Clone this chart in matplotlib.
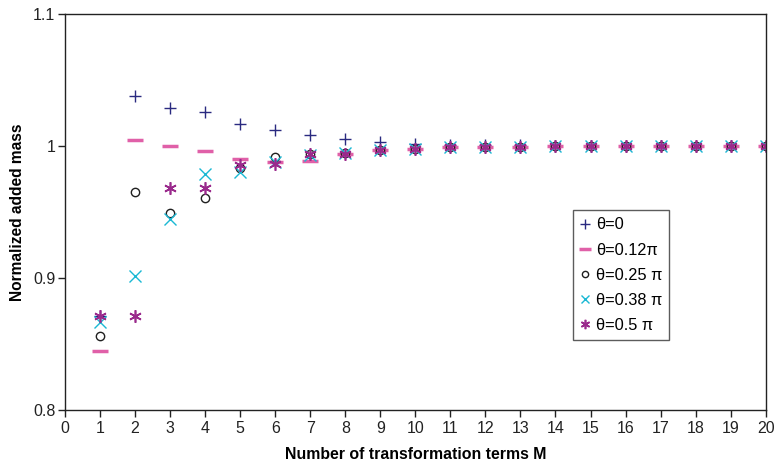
import matplotlib
matplotlib.use("Agg")
import matplotlib.pyplot as plt

plt.rcParams['font.family'] = ['Liberation Sans', 'DejaVu Sans']

M = list(range(1, 21))
theta_0 = [0.871, 1.038, 1.029, 1.026, 1.017, 1.012, 1.008, 1.005, 1.003, 1.0015,
           1.001, 1.0007, 1.0004, 1.0002, 1.0001, 1.0, 1.0, 1.0, 1.0, 1.0]
theta_012 = [0.845, 1.0045, 1.000, 0.9965, 0.990, 0.988, 0.989, 0.994, 0.997, 0.998,
             0.999, 0.9993, 0.9996, 0.9998, 0.9999, 1.0, 1.0, 1.0, 1.0, 1.0]
theta_025 = [0.856, 0.965, 0.949, 0.961, 0.983, 0.992, 0.994, 0.995, 0.997, 0.998,
             0.999, 0.9993, 0.9996, 0.9998, 0.9999, 1.0, 1.0, 1.0, 1.0, 1.0]
theta_038 = [0.867, 0.9015, 0.945, 0.979, 0.980, 0.988, 0.993, 0.995, 0.997, 0.998,
             0.999, 0.9993, 0.9996, 0.9998, 0.9999, 1.0, 1.0, 1.0, 1.0, 1.0]
theta_05 = [0.871, 0.871, 0.968, 0.968, 0.9855, 0.986, 0.994, 0.994, 0.997, 0.998,
            0.999, 0.9993, 0.9996, 0.9998, 0.9999, 1.0, 1.0, 1.0, 1.0, 1.0]
labels = ['θ=0', 'θ=0.12π', 'θ=0.25 π', 'θ=0.38 π', 'θ=0.5 π']

fig = plt.figure(figsize=(7.75, 4.65), dpi=100)
ax = fig.add_axes([0.0839, 0.118, 0.988 - 0.0839, 0.970 - 0.118])

ax.plot(M, theta_0, linestyle='none', marker='+', color='#2a2a80', markersize=9, markeredgewidth=1.0, label=labels[0])
ax.plot(M, theta_012, linestyle='none', marker='_', color='#e060a8', markersize=11, markeredgewidth=2.5, label=labels[1])
ax.plot(M, theta_025, linestyle='none', marker='o', markerfacecolor='none', markeredgecolor='#202020', markersize=6, markeredgewidth=1.0, label=labels[2])
ax.plot(M, theta_038, linestyle='none', marker='x', color='#1ab8d4', markersize=8, markeredgewidth=1.0, label=labels[3])
ax.plot(M, theta_05, linestyle='none', marker=(6, 2, 0), color='#9a2a8c', markersize=9, markeredgewidth=1.2, label=labels[4])

ax.set_xlim(0, 20)
ax.set_ylim(0.8, 1.1)
ax.set_xticks(range(0, 21))
ax.set_yticks([0.8, 0.9, 1.0, 1.1])
ax.set_yticklabels(['0.8', '0.9', '1', '1.1'])
ax.tick_params(axis='both', direction='out', length=5, width=1, labelsize=11.5, colors='#222222')
ax.tick_params(axis='y', pad=2)
ax.tick_params(axis='x', pad=2.5)
for s in ax.spines.values():
    s.set_linewidth(1.0)
    s.set_color('#222222')

ax.set_xlabel('Number of transformation terms M', fontsize=11.4, fontweight='bold', labelpad=8)
ax.set_ylabel('Normalized added mass', fontsize=11.2, fontweight='bold', labelpad=6)

leg = ax.legend(loc='upper left', bbox_to_anchor=(0.7247, 0.505), fontsize=11.8, frameon=True,
                fancybox=False, edgecolor='#333333', handlelength=0.6, handletextpad=0.35,
                labelspacing=0.62, borderpad=0.45, markerscale=0.75, borderaxespad=0)
leg.get_frame().set_linewidth(1.0)

fig.savefig('out.png', dpi=100)
